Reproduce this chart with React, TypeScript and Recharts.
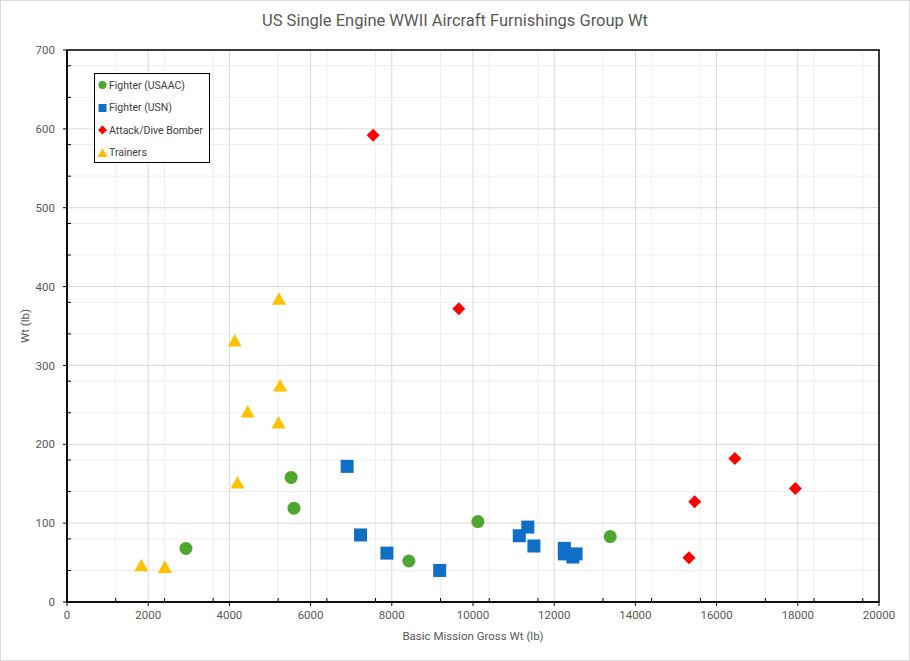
import React from 'react';
import {
  ScatterChart,
  Scatter,
  XAxis,
  YAxis,
  CartesianGrid,
  Legend,
  ReferenceArea,
  Label,
} from 'recharts';

// gross weight (lb) / furnishings group weight (lb)
const usaacGross = [2930, 5520, 5590, 8420, 10120, 13380];
const usaacFurn = [68, 158, 119, 52, 102, 83];

const usnGross = [6900, 7230, 7880, 9180, 11140, 11350, 11500, 12250, 12250, 12460, 12540];
const usnFurn = [172, 85, 62, 40, 84, 95, 71, 68, 61, 57, 61];

const attackGross = [7540, 9650, 15320, 15460, 16450, 17940];
const attackFurn = [592, 372, 56, 127, 182, 144];

const trainerGross = [5220, 4130, 5250, 4450, 5210, 4200, 1830, 2410];
const trainerFurn = [384, 331, 274, 241, 227, 151, 46, 44];

const xTicks = [0, 2000, 4000, 6000, 8000, 10000, 12000, 14000, 16000, 18000, 20000];
const yTicks = [0, 100, 200, 300, 400, 500, 600, 700];

const xMinor: number[] = [];
for (let v = 400; v < 20000; v += 400) if (v % 2000 !== 0) xMinor.push(v);
const yMinor: number[] = [];
for (let v = 20; v < 700; v += 20) if (v % 100 !== 0) yMinor.push(v);

const toPoints = (xs: number[], ys: number[]) => xs.map((x, i) => ({ x, y: ys[i] }));

const GREEN = '#4ea72e';
const BLUE = '#0f6fc6';
const RED = '#ff0000';
const YELLOW = '#ffc000';
const FONT = 'Roboto, sans-serif';
const TEXT = '#595959';

const circle = (r: number, color: string) => (p: any) => (
  <circle cx={p.cx} cy={p.cy} r={r} fill={color} />
);
const square = (s: number, color: string) => (p: any) => (
  <rect x={p.cx - s / 2} y={p.cy - s / 2} width={s} height={s} fill={color} />
);
const diamond = (h: number, color: string) => (p: any) => (
  <polygon
    points={`${p.cx},${p.cy - h} ${p.cx + h},${p.cy} ${p.cx},${p.cy + h} ${p.cx - h},${p.cy}`}
    fill={color}
  />
);
const triangle = (w: number, color: string) => (p: any) => (
  <polygon
    points={`${p.cx},${p.cy - w * 0.5} ${p.cx + w / 2},${p.cy + w * 0.4} ${p.cx - w / 2},${p.cy + w * 0.4}`}
    fill={color}
  />
);

const series = [
  { name: 'Fighter (USAAC)', data: toPoints(usaacGross, usaacFurn), shape: circle(6.5, GREEN), icon: circle(4, GREEN) },
  { name: 'Fighter (USN)', data: toPoints(usnGross, usnFurn), shape: square(13, BLUE), icon: square(8, BLUE) },
  { name: 'Attack/Dive Bomber', data: toPoints(attackGross, attackFurn), shape: diamond(6.5, RED), icon: diamond(4.5, RED) },
  { name: 'Trainers', data: toPoints(trainerGross, trainerFurn), shape: triangle(14, YELLOW), icon: triangle(10, YELLOW) },
];

const LegendBox = () => (
  <div
    style={{
      border: '1.5px solid #000',
      background: '#fff',
      width: 116,
      height: 90,
      boxSizing: 'border-box',
      fontFamily: FONT,
      fontSize: 10.5,
      color: '#404040',
      whiteSpace: 'nowrap',
      overflow: 'hidden',
    }}
  >
    {series.map((s) => (
      <div key={s.name} style={{ display: 'flex', alignItems: 'center', height: 22.5 }}>
        <svg width={14} height={12} style={{ flexShrink: 0 }}>
          {s.icon({ cx: 7.5, cy: 6 })}
        </svg>
        <span>{s.name}</span>
      </div>
    ))}
  </div>
);

const App: React.FC = () => {
  return (
    <div
      style={{
        position: 'absolute',
        left: 0,
        top: 0,
        width: 910,
        height: 661,
        background: '#fff',
        boxShadow: 'inset 0 0 0 1px #d9d9d9',
        fontFamily: FONT,
      }}
    >
      <div
        style={{
          position: 'absolute',
          top: 11,
          left: 0,
          width: 910,
          textAlign: 'center',
          fontSize: 16.5,
          color: TEXT,
        }}
      >
        US Single Engine WWII Aircraft Furnishings Group Wt
      </div>
      <ScatterChart width={910} height={661} margin={{ top: 50, right: 31, bottom: 19, left: 0 }}>
        <CartesianGrid xAxisId="minor" yAxisId="minor" stroke="#eeeeee" />
        <CartesianGrid stroke="#d9d9d9" />
        <XAxis
          xAxisId="minor"
          type="number"
          dataKey="x"
          domain={[0, 20000]}
          ticks={xMinor}
          mirror
          axisLine={false}
          tickLine={{ stroke: '#000' }}
          tickSize={4}
          tick={() => <g />}
          allowDataOverflow
        />
        <YAxis
          yAxisId="minor"
          type="number"
          dataKey="y"
          domain={[0, 700]}
          ticks={yMinor}
          mirror
          axisLine={false}
          tickLine={{ stroke: '#000' }}
          tickSize={4}
          tick={() => <g />}
          allowDataOverflow
        />
        <XAxis
          type="number"
          dataKey="x"
          domain={[0, 20000]}
          ticks={xTicks}
          height={40}
          tickSize={4}
          tickMargin={5}
          axisLine={{ stroke: '#000', strokeWidth: 1.5 }}
          tickLine={{ stroke: '#000' }}
          tick={{ fill: TEXT, fontSize: 11.5 }}
          allowDataOverflow
        >
          <Label
            value="Basic Mission Gross Wt (lb)"
            position="insideBottom"
            offset={2}
            style={{ fill: TEXT, fontSize: 11.5 }}
          />
        </XAxis>
        <YAxis
          type="number"
          dataKey="y"
          domain={[0, 700]}
          ticks={yTicks}
          width={67}
          tickSize={4}
          tickMargin={8}
          axisLine={{ stroke: '#000', strokeWidth: 1.5 }}
          tickLine={{ stroke: '#000' }}
          tick={{ fill: TEXT, fontSize: 11.5 }}
          allowDataOverflow
        >
          <Label
            value="Wt (lb)"
            angle={-90}
            position="insideLeft"
            offset={25}
            style={{ fill: TEXT, fontSize: 11.5, textAnchor: 'middle' }}
          />
        </YAxis>
        <ReferenceArea
          x1={0}
          x2={20000}
          y1={0}
          y2={700}
          fill="none"
          stroke="#000"
          strokeWidth={1.5}
          ifOverflow="visible"
        />
        <Legend
          layout="vertical"
          align="center"
          verticalAlign="middle"
          wrapperStyle={{ left: 94, top: 73, width: 116 }}
          content={<LegendBox />}
        />
        {series.map((s) => (
          <Scatter
            key={s.name}
            name={s.name}
            data={s.data}
            shape={s.shape}
            isAnimationActive={false}
          />
        ))}
      </ScatterChart>
    </div>
  );
};

export default App;
